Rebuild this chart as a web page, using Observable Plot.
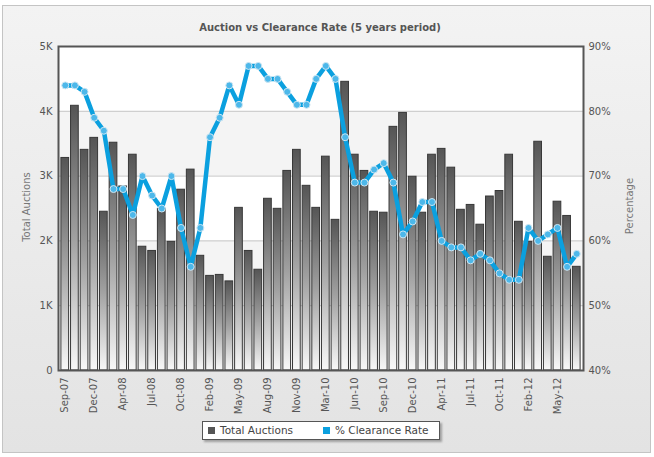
<!DOCTYPE html>
<html><head><meta charset="utf-8">
<script src="https://cdn.jsdelivr.net/npm/d3@7"></script>
<script src="https://cdn.jsdelivr.net/npm/@observablehq/plot@0.6"></script>
<style>
html,body{margin:0;padding:0;width:654px;height:457px;overflow:hidden;background:#fff;font-family:"DejaVu Sans",sans-serif;}
#frame{position:absolute;left:2px;top:5px;width:647px;height:446px;border:1px solid #c4c4c4;background:linear-gradient(#f3f3f3,#e3e3e3);}
#chart{position:absolute;left:0;top:0;}
#title{position:absolute;left:0;top:22px;width:640px;text-align:center;font-weight:bold;font-size:10px;line-height:12px;color:#555;}
.ylab{position:absolute;font-size:10px;color:#777;white-space:nowrap;transform:translate(-50%,-50%) rotate(-90deg);}
#legend{position:absolute;left:202px;top:421px;width:236px;height:17px;border:1px solid #555;background:#fff;box-shadow:2px 2px 2px rgba(0,0,0,0.3);font-size:10.5px;color:#444;line-height:17px;}
#legend .sw{position:absolute;top:5px;width:7px;height:7px;}
#legend .tx{position:absolute;top:0;}
</style>
</head><body>
<div id="frame"></div>
<div id="chart"></div>
<div id="title">Auction vs Clearance Rate (5 years period)</div>
<div class="ylab" style="left:25.5px;top:207px;">Total Auctions</div>
<div class="ylab" style="left:629px;top:206px;">Percentage</div>
<div id="legend">
  <div class="sw" style="left:5px;background:#555;"></div><div class="tx" style="left:17px;">Total Auctions</div>
  <div class="sw" style="left:120px;background:#0ba0df;"></div><div class="tx" style="left:132px;">% Clearance Rate</div>
</div>
<script>
const months = ["Sep-07","Oct-07","Nov-07","Dec-07",
  "Feb-08","Mar-08","Apr-08","May-08","Jun-08","Jul-08","Aug-08","Sep-08","Oct-08","Nov-08","Dec-08",
  "Feb-09","Mar-09","Apr-09","May-09","Jun-09","Jul-09","Aug-09","Sep-09","Oct-09","Nov-09","Dec-09",
  "Feb-10","Mar-10","Apr-10","May-10","Jun-10","Jul-10","Aug-10","Sep-10","Oct-10","Nov-10","Dec-10",
  "Feb-11","Mar-11","Apr-11","May-11","Jun-11","Jul-11","Aug-11","Sep-11","Oct-11","Nov-11","Dec-11",
  "Feb-12","Mar-12","Apr-12","May-12","Jun-12","Jul-12"];
const auctions = [3280,4085,3405,3590,
  2450,3515,2840,3330,1910,1845,2495,1985,2790,3100,1770,
  1460,1475,1375,2510,1845,1555,2650,2495,3080,3405,2850,
  2510,3300,2325,4455,3330,3080,2450,2435,3760,3975,2990,
  2435,3330,3420,3130,2480,2555,2250,2685,2770,3330,2295,
  1985,3530,1755,2605,2385,1600];
const clearance = [84,84,83,79,
  77,68,68,64,70,67,65,70,62,56,62,
  76,79,84,81,87,87,85,85,83,81,81,
  85,87,85,76,69,69,71,72,69,61,63,
  66,66,60,59,59,57,58,57,55,54,54,
  62,60,61,62,56,58];
const xTickLabels = ["Sep-07","Dec-07","Apr-08","Jul-08","Oct-08","Feb-09","May-09","Aug-09","Nov-09",
  "Mar-10","Jun-10","Sep-10","Dec-10","Apr-11","Jul-11","Oct-11","Feb-12","May-12"];
const countTicks = [0,1000,2000,3000,4000,5000];
const countTickLabels = ["0","1K","2K","3K","4K","5K"];
const pctTicks = [40,50,60,70,80,90];
const pctTickLabels = ["40%","50%","60%","70%","80%","90%"];

const countMax = 5000, pctMin = 40, pctMax = 90;
const toCount = p => (p - pctMin) / (pctMax - pctMin) * countMax;

const data = months.map((m, i) => ({month: m, auctions: auctions[i], pct: clearance[i]}));
const bands = [{y1: countTicks[1], y2: countTicks[2]}, {y1: countTicks[3], y2: countTicks[4]}];

const defs = () => {
  const d = d3.create("svg:defs");
  const g = d.append("linearGradient").attr("id", "barGrad").attr("x1", 0).attr("y1", 0).attr("x2", 0).attr("y2", 1);
  g.append("stop").attr("offset", "0%").attr("stop-color", "#555555");
  g.append("stop").attr("offset", "50%").attr("stop-color", "#a0a0a0");
  g.append("stop").attr("offset", "100%").attr("stop-color", "#f8f8f8");
  return d.node();
};

const chart = Plot.plot({
  width: 654, height: 415,
  marginLeft: 58, marginRight: 71, marginTop: 46, marginBottom: 45,
  style: {background: "transparent", fontFamily: "DejaVu Sans, sans-serif", fontSize: "10px", color: "#555", overflow: "visible"},
  x: {type: "band", domain: months, paddingInner: 0.2, paddingOuter: 0.3, axis: null, label: null},
  y: {domain: [0, countMax], axis: null, label: null},
  marks: [
    defs,
    Plot.rect([{}], {fill: "#ffffff"}),
    Plot.rectY(bands, {y1: "y1", y2: "y2", fill: "#f4f4f4"}),
    Plot.ruleY(countTicks.slice(1, -1), {stroke: "#c6c6c6", strokeWidth: 1}),
    Plot.barY(data, {x: "month", y: "auctions", fill: "url(#barGrad)", stroke: "#383838", strokeWidth: 1}),
    Plot.line(data, {x: "month", y: d => toCount(d.pct), stroke: "#0ba0df", strokeWidth: 4.5, strokeLinejoin: "round", strokeLinecap: "round"}),
    Plot.dot(data, {x: "month", y: d => toCount(d.pct), r: 3.5, fill: "#4db8ea", stroke: "#cfe6f2", strokeWidth: 1}),
    Plot.frame({stroke: "#555", strokeWidth: 2}),
    Plot.axisY(countTicks, {anchor: "left", tickSize: 0, tickPadding: 6, tickFormat: (d, i) => countTickLabels[i], fill: "#555", label: null}),
    Plot.axisY(pctTicks.map(toCount), {anchor: "right", tickSize: 0, tickPadding: 5, tickFormat: (d, i) => pctTickLabels[i], fill: "#555", label: null}),
    Plot.axisX(xTickLabels, {anchor: "bottom", tickSize: 0, tickPadding: 7, tickRotate: -90, fill: "#555", label: null})
  ]
});
document.getElementById("chart").appendChild(chart);
</script>
</body></html>
